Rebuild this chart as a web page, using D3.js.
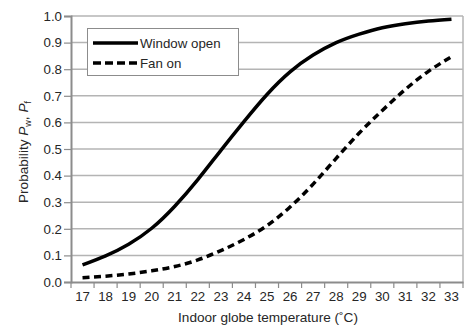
<!DOCTYPE html>
<html>
<head>
<meta charset="utf-8">
<script src="https://cdn.jsdelivr.net/npm/d3@7"></script>
<style>
  html, body { margin: 0; padding: 0; background: #fff; }
  svg { display: block; font-family: "Liberation Sans", Arial, sans-serif; }
</style>
</head>
<body>
<svg id="chart" width="464" height="326"></svg>
<script>
// Indoor globe temperature categories (°C)
const temperatures = [17, 18, 19, 20, 21, 22, 23, 24, 25, 26, 27, 28, 29, 30, 31, 32, 33];
// Probability of window open (P_w)
const windowOpen = [0.064, 0.098, 0.142, 0.202, 0.285, 0.385, 0.495, 0.603, 0.705, 0.790, 0.853, 0.900, 0.932, 0.956, 0.971, 0.981, 0.988];
// Probability of fan on (P_f)
const fanOn = [0.016, 0.022, 0.030, 0.042, 0.058, 0.083, 0.118, 0.160, 0.212, 0.282, 0.368, 0.465, 0.560, 0.645, 0.724, 0.792, 0.847];
const yTicks = [0.0, 0.1, 0.2, 0.3, 0.4, 0.5, 0.6, 0.7, 0.8, 0.9, 1.0];
const seriesNames = ["Window open", "Fan on"];

const svg = d3.select("#chart");
const plotLeft = 71, plotRight = 463, plotTop = 16, plotBottom = 282;

const x = d3.scaleBand().domain(temperatures).range([plotLeft, plotRight]).padding(0);
const y = d3.scaleLinear().domain([0, 1]).range([plotBottom, plotTop]);

const gridColor = "#b4b4b4";
const axisColor = "#8c8c8c";
const textColor = "#262626";
const fontSize = "13.3px";

// horizontal gridlines
svg.append("g").selectAll("line").data(yTicks.slice(1)).join("line")
  .attr("x1", plotLeft).attr("x2", plotRight)
  .attr("y1", d => y(d)).attr("y2", d => y(d))
  .attr("stroke", gridColor).attr("stroke-width", 1.5);

// right border of plot area
svg.append("line").attr("x1", plotRight).attr("x2", plotRight).attr("y1", plotTop).attr("y2", plotBottom)
  .attr("stroke", gridColor).attr("stroke-width", 1.5);

// y axis
const yAxis = svg.append("g").attr("transform", `translate(${plotLeft},0)`)
  .call(d3.axisLeft(y).tickValues(yTicks).tickFormat(d3.format(".1f")).tickSize(7).tickPadding(2));
yAxis.select(".domain").attr("stroke", axisColor).attr("stroke-width", 2);
yAxis.selectAll(".tick line").attr("stroke", axisColor).attr("stroke-width", 1.2);
yAxis.selectAll(".tick text").attr("fill", textColor).style("font-size", fontSize)
  .style("font-family", "'Liberation Sans', Arial, sans-serif");

// x axis: category labels centered in bands, ticks on band boundaries
const xAxis = svg.append("g").attr("transform", `translate(0,${plotBottom})`)
  .call(d3.axisBottom(x).tickSize(0).tickPadding(10));
xAxis.select(".domain").attr("stroke", axisColor).attr("stroke-width", 2);
xAxis.selectAll(".tick text").attr("fill", textColor).style("font-size", fontSize)
  .style("font-family", "'Liberation Sans', Arial, sans-serif");
const boundaries = temperatures.map(t => x(t)).concat([x(temperatures[temperatures.length - 1]) + x.bandwidth()]);
svg.append("g").selectAll("line").data(boundaries).join("line")
  .attr("x1", d => d).attr("x2", d => d)
  .attr("y1", plotBottom).attr("y2", plotBottom + 6)
  .attr("stroke", axisColor).attr("stroke-width", 1.2);

// smooth curves through the band centres
const line = d3.line()
  .x((d, i) => x(temperatures[i]) + x.bandwidth() / 2)
  .y(d => y(d))
  .curve(d3.curveNatural);

svg.append("path").datum(windowOpen).attr("d", line)
  .attr("fill", "none").attr("stroke", "#000").attr("stroke-width", 3.5);
svg.append("path").datum(fanOn).attr("d", line)
  .attr("fill", "none").attr("stroke", "#000").attr("stroke-width", 3.5)
  .attr("stroke-dasharray", "7,4.5");

// legend
const legend = svg.append("g");
legend.append("rect").attr("x", 87.5).attr("y", 28.5).attr("width", 151).attr("height", 47)
  .attr("fill", "#fff").attr("stroke", "#8c8c8c").attr("stroke-width", 1);
const legendRows = [
  { name: seriesNames[0], dash: null, yy: 43 },
  { name: seriesNames[1], dash: "8,4", yy: 63 }
];
legendRows.forEach(r => {
  legend.append("line").attr("x1", 93).attr("x2", 138).attr("y1", r.yy).attr("y2", r.yy)
    .attr("stroke", "#000").attr("stroke-width", 3.5)
    .attr("stroke-dasharray", r.dash);
  legend.append("text").attr("x", 140).attr("y", r.yy + 4.5)
    .attr("fill", textColor).style("font-size", fontSize).text(r.name);
});

// axis titles
svg.append("text").attr("x", 268).attr("y", 322)
  .attr("text-anchor", "middle").attr("fill", textColor).style("font-size", "13.6px")
  .text("Indoor globe temperature (˚C)");

const yTitle = svg.append("text")
  .attr("transform", "translate(28,152) rotate(-90)")
  .attr("text-anchor", "middle").attr("fill", textColor).style("font-size", "13.6px");
yTitle.append("tspan").text("Probability ");
yTitle.append("tspan").attr("font-style", "italic").text("P");
yTitle.append("tspan").attr("dy", 3).style("font-size", "9px").text("w");
yTitle.append("tspan").attr("dy", -3).text(", ");
yTitle.append("tspan").attr("font-style", "italic").text("P");
yTitle.append("tspan").attr("dy", 3).style("font-size", "9px").text("f");
</script>
</body>
</html>
